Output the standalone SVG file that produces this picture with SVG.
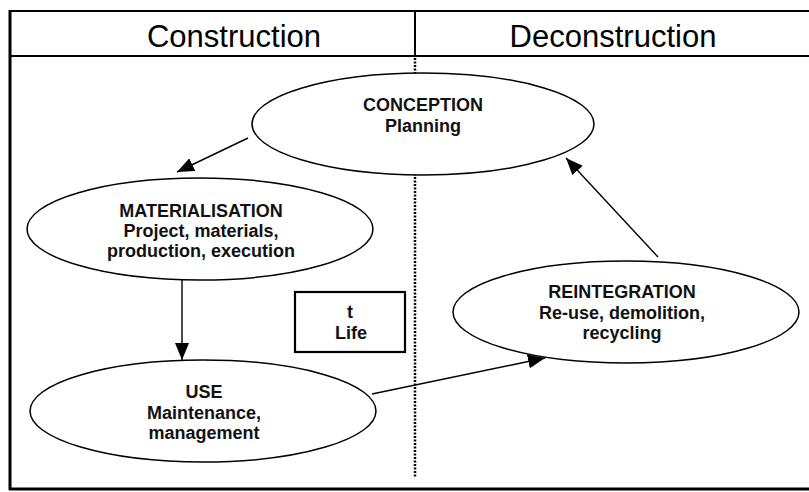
<svg xmlns="http://www.w3.org/2000/svg" width="809" height="492" viewBox="0 0 809 492">
<style>
  .hdr { font-family: "Liberation Sans", Arial, sans-serif; font-size: 31px; fill: #000; text-anchor: middle; }
  .lbl { font-family: "Liberation Sans", Arial, sans-serif; font-size: 18px; font-weight: bold; fill: #111; text-anchor: middle; }
  .node { fill: #fff; stroke: #000; stroke-width: 1.5; }
  .conn { stroke: #000; stroke-width: 1.4; fill: none; marker-end: url(#arr); }
</style>
<defs>
  <marker id="arr" markerUnits="userSpaceOnUse" markerWidth="18" markerHeight="14" refX="17" refY="7" orient="auto">
    <path d="M0,0 L17,7 L0,14 Z" fill="#000"/>
  </marker>
</defs>
<rect width="809" height="492" fill="#fff"/>
<g id="frame" fill="none" stroke="#000">
  <line x1="9" y1="11" x2="809" y2="11" stroke-width="2.2"/>
  <line x1="10" y1="10" x2="10" y2="490" stroke-width="3"/>
  <line x1="9" y1="56" x2="809" y2="56" stroke-width="2"/>
  <line x1="415" y1="11" x2="415" y2="56" stroke-width="2"/>
  <line x1="9" y1="489" x2="809" y2="489" stroke-width="3"/>
  <line x1="415" y1="58" x2="415" y2="478" stroke-width="2.5" stroke-dasharray="2 1.5"/>
</g>
<g id="header">
  <text class="hdr" x="234" y="47">Construction</text>
  <text class="hdr" x="613" y="47">Deconstruction</text>
</g>
<g id="connectors">
  <line class="conn" x1="248" y1="138" x2="177" y2="172"/>
  <line class="conn" x1="182" y1="280" x2="182" y2="360"/>
  <line class="conn" x1="372" y1="394" x2="545" y2="358"/>
  <line class="conn" x1="658" y1="257" x2="566" y2="158"/>
</g>
<g id="conception">
  <ellipse class="node" cx="423" cy="124" rx="171" ry="51"/>
  <text class="lbl" x="423" y="111">CONCEPTION</text>
  <text class="lbl" x="423" y="132">Planning</text>
</g>
<g id="materialisation">
  <ellipse class="node" cx="200" cy="229" rx="173" ry="51"/>
  <text class="lbl" x="201" y="217">MATERIALISATION</text>
  <text class="lbl" x="201" y="237">Project, materials,</text>
  <text class="lbl" x="201" y="257">production, execution</text>
</g>
<g id="use">
  <ellipse class="node" cx="203" cy="411" rx="173" ry="51"/>
  <text class="lbl" x="204" y="398">USE</text>
  <text class="lbl" x="204" y="419">Maintenance,</text>
  <text class="lbl" x="204" y="439">management</text>
</g>
<g id="reintegration">
  <ellipse class="node" cx="626" cy="312" rx="173" ry="51"/>
  <text class="lbl" x="622" y="298">REINTEGRATION</text>
  <text class="lbl" x="622" y="319">Re-use, demolition,</text>
  <text class="lbl" x="622" y="339">recycling</text>
</g>
<g id="life">
  <rect x="295" y="292" width="110" height="60" fill="#fff" stroke="#000" stroke-width="2.2"/>
  <text class="lbl" x="350" y="318">t</text>
  <text class="lbl" x="351" y="339">Life</text>
</g>
</svg>
